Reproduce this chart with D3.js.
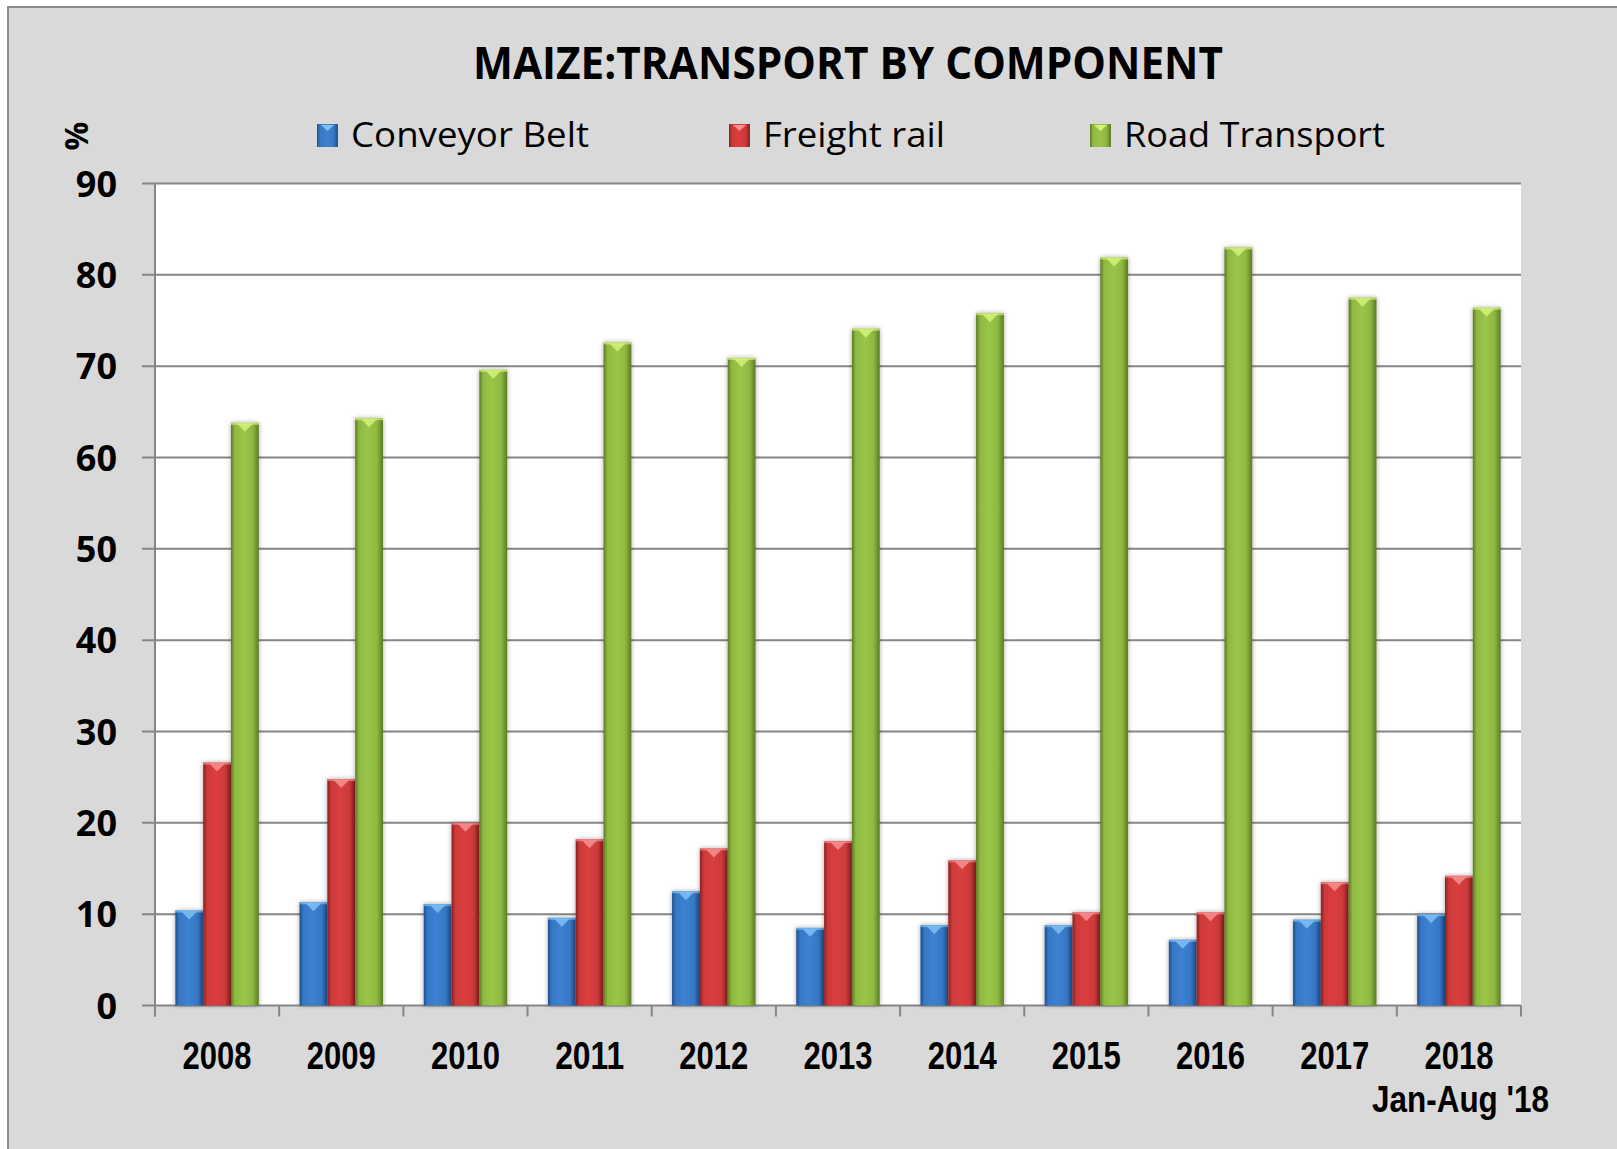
<!DOCTYPE html>
<html>
<head>
<meta charset="utf-8">
<script src="https://cdn.jsdelivr.net/npm/d3@7"></script>
<style>
  body { margin: 0; background: #fff; }
  svg { display: block; }
</style>
</head>
<body>
<div id="chart"></div>
<script>
"use strict"

// data
const years = ["2008", "2009", "2010", "2011", "2012", "2013", "2014", "2015", "2016", "2017", "2018"];
const seriesNames = ["Conveyor Belt", "Freight rail", "Road Transport"];
const conveyorBelt = [10.4, 11.3, 11.1, 9.6, 12.5, 8.5, 8.8, 8.8, 7.2, 9.4, 10.0];
const freightRail = [26.6, 24.8, 20.0, 18.2, 17.2, 18.0, 15.9, 10.2, 10.2, 13.5, 14.2];
const roadTransport = [63.8, 64.3, 69.6, 72.6, 70.9, 74.1, 75.8, 81.9, 83.0, 77.5, 76.4];
const yTicks = [0, 10, 20, 30, 40, 50, 60, 70, 80, 90];

const seriesValues = [conveyorBelt, freightRail, roadTransport];
// edge / mid / light colours per series
const palette = [
    { dark: "#1d4f8f", mid: "#3878c4", light: "#7fc0f4" },
    { dark: "#8c1f1f", mid: "#cc3a3a", light: "#f49090" },
    { dark: "#5d7a24", mid: "#8fb842", light: "#d4f27a" }
];

const width = 1617, height = 1149;
const plot = { left: 155, right: 1521, top: 183.5, bottom: 1005.5 };

const svg = d3.select("#chart").append("svg")
    .attr("width", width)
    .attr("height", height);

const defs = svg.append("defs");
palette.forEach((c, i) => {
    const g = defs.append("linearGradient")
        .attr("id", "grad" + i)
        .attr("x1", "0").attr("x2", "1").attr("y1", "0").attr("y2", "0");
    g.append("stop").attr("offset", "0%").attr("stop-color", c.dark);
    g.append("stop").attr("offset", "14%").attr("stop-color", c.mid);
    g.append("stop").attr("offset", "45%").attr("stop-color", d3.color(c.mid).brighter(0.2));
    g.append("stop").attr("offset", "78%").attr("stop-color", c.mid);
    g.append("stop").attr("offset", "100%").attr("stop-color", c.dark);
});
const shadow = defs.append("filter").attr("id", "shadow")
    .attr("x", "-30%").attr("y", "-5%").attr("width", "160%").attr("height", "110%");
shadow.append("feGaussianBlur").attr("in", "SourceAlpha").attr("stdDeviation", 2.5);
shadow.append("feOffset").attr("dx", 0).attr("dy", 0).attr("result", "b");
shadow.append("feComponentTransfer").append("feFuncA").attr("type", "linear").attr("slope", 0.35);
const merge = shadow.append("feMerge");
merge.append("feMergeNode");
merge.append("feMergeNode").attr("in", "SourceGraphic");

// background + frame
svg.append("rect").attr("width", width).attr("height", height).attr("fill", "#fff");
svg.append("rect")
    .attr("x", 8).attr("y", 7)
    .attr("width", width + 20).attr("height", height + 20)
    .attr("fill", "#d9d9d9")
    .attr("stroke", "#8c8c8c")
    .attr("stroke-width", 2);

svg.append("rect")
    .attr("x", plot.left).attr("y", plot.top)
    .attr("width", plot.right - plot.left).attr("height", plot.bottom - plot.top)
    .attr("fill", "#fff");

// scales
const x0 = d3.scaleBand()
    .domain(years)
    .range([plot.left, plot.right])
    .paddingInner(0.328)
    .paddingOuter(0.164);
const x1 = d3.scaleBand()
    .domain(d3.range(seriesNames.length))
    .range([0, x0.bandwidth()]);
const y = d3.scaleLinear().domain([0, 90]).range([plot.bottom, plot.top]);

// gridlines
svg.append("g").selectAll("line").data(yTicks).enter().append("line")
    .attr("x1", plot.left - 13).attr("x2", plot.right)
    .attr("y1", d => y(d)).attr("y2", d => y(d))
    .attr("stroke", "#868686").attr("stroke-width", 2);

// y axis line
svg.append("line")
    .attr("x1", plot.left).attr("x2", plot.left)
    .attr("y1", plot.top).attr("y2", plot.bottom + 11)
    .attr("stroke", "#868686").attr("stroke-width", 2);

// x ticks at band boundaries
const step = x0.step();
svg.append("g").selectAll("line").data(d3.range(years.length + 1)).enter().append("line")
    .attr("x1", i => plot.left + i * step).attr("x2", i => plot.left + i * step)
    .attr("y1", plot.bottom).attr("y2", plot.bottom + 11)
    .attr("stroke", "#868686").attr("stroke-width", 2);

// bars
const groups = svg.append("g").selectAll("g").data(years).enter().append("g")
    .attr("transform", d => `translate(${x0(d)},0)`);

groups.each(function (yr, yi) {
    const g = d3.select(this);
    seriesValues.forEach((vals, si) => {
        const bx = x1(si), bw = x1.bandwidth();
        const top = y(vals[yi]);
        g.append("rect")
            .attr("x", bx).attr("y", top)
            .attr("width", bw).attr("height", plot.bottom - top)
            .attr("fill", `url(#grad${si})`)
            .attr("filter", "url(#shadow)");
        // bevel at top
        g.append("rect")
            .attr("x", bx).attr("y", top)
            .attr("width", bw).attr("height", 2)
            .attr("fill", palette[si].light).attr("opacity", 0.7);
        g.append("path")
            .attr("d", `M${bx + bw * 0.22},${top + 1} L${bx + bw * 0.78},${top + 1} L${bx + bw / 2},${top + 9} Z`)
            .attr("fill", palette[si].light).attr("opacity", 0.85);
    });
});

// y tick labels
svg.append("g").selectAll("text").data(yTicks).enter().append("text")
    .attr("x", 117).attr("y", d => y(d) + 13)
    .attr("text-anchor", "end")
    .attr("font-family", "'Open Sans', 'DejaVu Sans', sans-serif")
    .attr("font-weight", 700)
    .attr("font-size", 36)
    .attr("fill", "#000")
    .text(d => d);

// x labels
svg.append("g").selectAll("text").data(years).enter().append("text")
    .attr("x", d => x0(d) + x0.bandwidth() / 2)
    .attr("y", 1069)
    .attr("text-anchor", "middle")
    .attr("font-family", "'Liberation Sans Narrow', 'Liberation Sans', Arial, sans-serif")
    .attr("font-weight", 700)
    .attr("font-size", 38)
    .attr("textLength", 69)
    .attr("lengthAdjust", "spacingAndGlyphs")
    .text(d => d);

svg.append("text")
    .attr("x", 1549).attr("y", 1112)
    .attr("text-anchor", "end")
    .attr("font-family", "'Liberation Sans Narrow', 'Liberation Sans', Arial, sans-serif")
    .attr("font-weight", 700)
    .attr("font-size", 37)
    .attr("textLength", 177)
    .attr("lengthAdjust", "spacingAndGlyphs")
    .text("Jan-Aug '18");

// title
svg.append("text")
    .attr("x", 848).attr("y", 79)
    .attr("text-anchor", "middle")
    .attr("font-family", "'Open Sans', 'DejaVu Sans', sans-serif")
    .attr("font-weight", 700)
    .attr("font-size", 44)
    .attr("textLength", 750)
    .attr("lengthAdjust", "spacingAndGlyphs")
    .text("MAIZE:TRANSPORT BY COMPONENT");

// axis unit
svg.append("text")
    .attr("transform", "translate(88,136) rotate(-90)")
    .attr("text-anchor", "middle")
    .attr("font-family", "'Open Sans', 'DejaVu Sans', sans-serif")
    .attr("font-weight", 700)
    .attr("font-size", 32)
    .text("%");

// legend
const legendX = [317, 729, 1090];
const legendLen = [238, 182, 261];
const legend = svg.append("g").selectAll("g").data(seriesNames).enter().append("g")
    .attr("transform", (d, i) => `translate(${legendX[i]},0)`);
legend.append("rect")
    .attr("x", 0).attr("y", 124)
    .attr("width", 21).attr("height", 23)
    .attr("fill", (d, i) => `url(#grad${i})`);
legend.append("path")
    .attr("d", "M4,125 L17,125 L10.5,131 Z")
    .attr("fill", (d, i) => palette[i].light);
legend.append("text")
    .attr("x", 34).attr("y", 147)
    .attr("font-family", "'Open Sans', 'DejaVu Sans', sans-serif")
    .attr("font-size", 34)
    .attr("textLength", (d, i) => legendLen[i])
    .attr("lengthAdjust", "spacingAndGlyphs")
    .text(d => d);
</script>
</body>
</html>
